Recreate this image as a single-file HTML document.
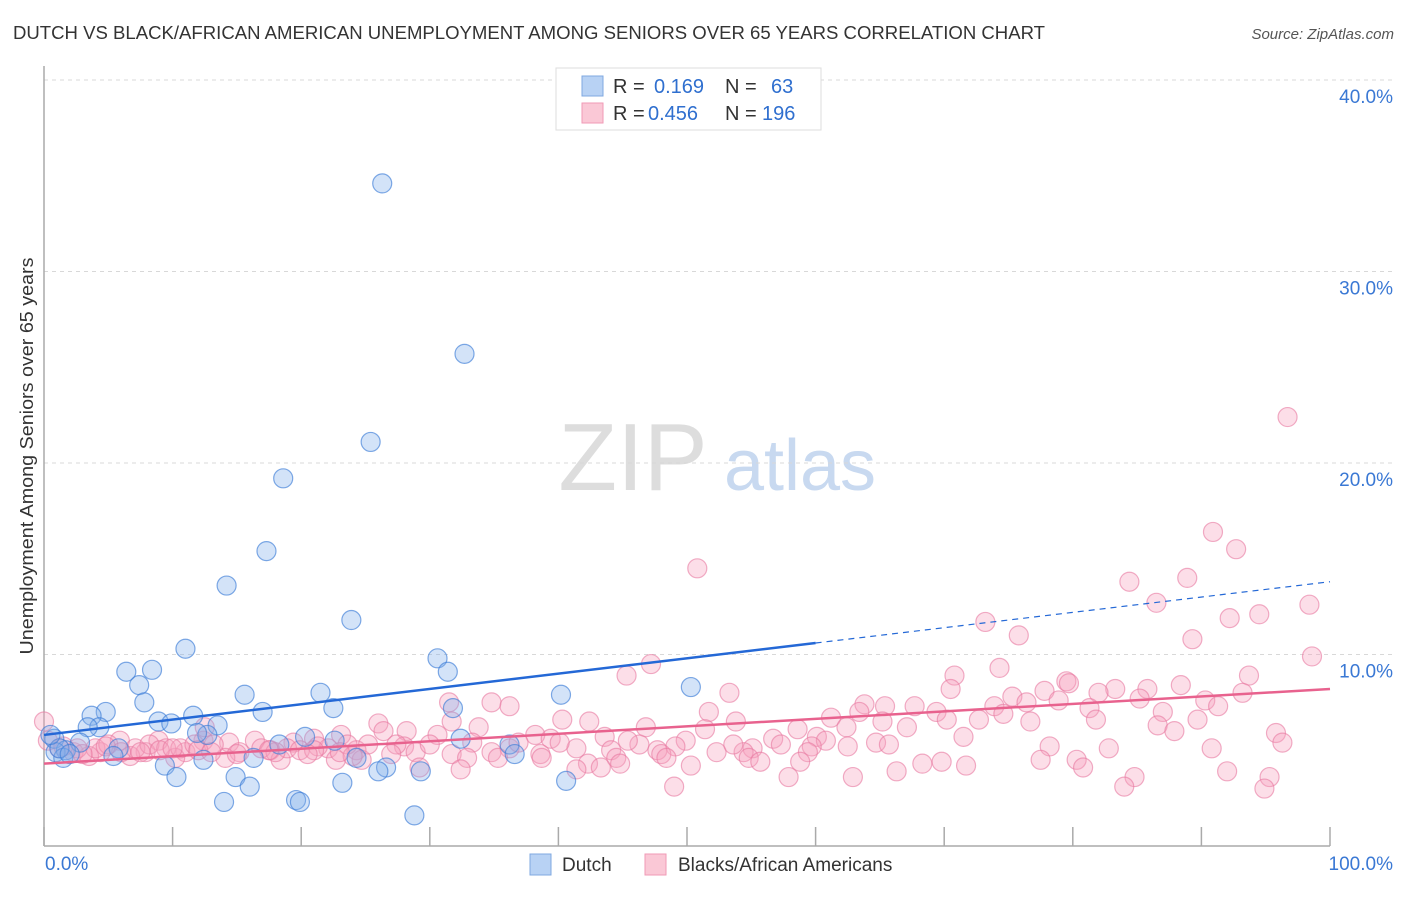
<!DOCTYPE html>
<html><head><meta charset="utf-8"><style>
body{margin:0;background:#fff;font-family:"Liberation Sans",sans-serif}
svg text{font-family:"Liberation Sans",sans-serif}
</style></head><body>
<svg id="chart" width="1406" height="892" viewBox="0 0 1406 892" xmlns="http://www.w3.org/2000/svg">
<text x="13" y="39" font-size="18" fill="#333" textLength="1032" lengthAdjust="spacingAndGlyphs">DUTCH VS BLACK/AFRICAN AMERICAN UNEMPLOYMENT AMONG SENIORS OVER 65 YEARS CORRELATION CHART</text>
<text x="1394" y="39" font-size="15" fill="#555" font-style="italic" text-anchor="end">Source: ZipAtlas.com</text>
<g>
<text x="633" y="490" font-size="96" fill="#ddd" font-family="Liberation Serif,serif" text-anchor="middle">ZIP</text>
<text x="800" y="490" font-size="72" fill="#c8d9f0" text-anchor="middle">atlas</text>
</g>
<g id="grid"></g>
<g id="axes"></g>
<g id="marks"></g>
<g id="trends"></g>
<text transform="translate(33,456) rotate(-90)" font-size="18" fill="#333" text-anchor="middle" textLength="397" lengthAdjust="spacingAndGlyphs">Unemployment Among Seniors over 65 years</text>
<g>
<rect x="556" y="68" width="265" height="62" fill="#fff" stroke="#ddd"/>
<rect x="582" y="76" width="21" height="20" fill="#b8d2f4" stroke="#7fa8e0"/>
<rect x="582" y="103" width="21" height="20" fill="#fac8d6" stroke="#f09ab6"/>
<text x="613" y="93" font-size="20" fill="#333">R = </text><text x="654" y="93" font-size="20" fill="#2f6fcf">0.169</text>
<text x="725" y="93" font-size="20" fill="#333">N = </text><text x="771" y="93" font-size="20" fill="#2f6fcf">63</text>
<text x="613" y="120" font-size="20" fill="#333">R = </text><text x="648" y="120" font-size="20" fill="#2f6fcf">0.456</text>
<text x="725" y="120" font-size="20" fill="#333">N = </text><text x="762" y="120" font-size="20" fill="#2f6fcf">196</text>
</g>
<g>
<rect x="530" y="854" width="21" height="21" fill="#b8d2f4" stroke="#7fa8e0"/>
<text x="562" y="871" font-size="19" fill="#333">Dutch</text>
<rect x="645" y="854" width="21" height="21" fill="#fac8d6" stroke="#f09ab6"/>
<text x="678" y="871" font-size="19" fill="#333">Blacks/African Americans</text>
</g>
</svg>
<script>
const yTicks=[10,20,30,40];
const yTickLabels=["10.0%","20.0%","30.0%","40.0%"];
const xTickVals=[0,10,20,30,40,50,60,70,80,90,100];
const dutchX=[26.3,32.7,25.4,18.6,17.3,14.2,23.9,11.0,30.6,6.4,8.4,31.4,7.4,50.3,21.5,15.6,40.2,7.8,4.8,3.7,22.5,17.0,11.6,31.8,8.9,9.9,4.3,13.5,3.4,12.7,20.3,11.9,32.4,18.3,22.6,2.8,0.8,36.2,5.8,1.7,0.9,1.5,5.4,12.4,16.3,24.3,36.6,9.4,26.6,26.0,29.3,10.3,14.9,23.2,40.6,16.0,14.0,19.6,19.9,28.8,1.2,0.5,2.0];
const dutchY=[34.6,25.7,21.1,19.2,15.4,13.6,11.8,10.3,9.8,9.1,9.2,9.1,8.4,8.3,8.0,7.9,7.9,7.5,7.0,6.8,7.2,7.0,6.8,7.2,6.5,6.4,6.2,6.3,6.2,5.8,5.7,5.9,5.6,5.3,5.5,5.4,5.6,5.3,5.1,5.0,4.9,4.6,4.7,4.5,4.6,4.6,4.8,4.2,4.1,3.9,3.9,3.6,3.6,3.3,3.4,3.1,2.3,2.4,2.3,1.6,5.1,5.8,4.8];
const blackX=[96.7,90.9,92.7,50.8,88.9,84.4,86.5,98.4,94.5,92.2,73.2,75.8,89.3,98.6,47.2,74.3,70.8,45.3,93.7,79.5,79.7,83.3,77.8,85.8,88.4,70.5,53.3,82.0,93.2,75.3,85.2,78.9,90.3,31.5,34.8,36.2,63.8,65.4,67.7,69.4,76.4,73.9,81.3,91.3,87.0,51.7,74.6,61.2,63.4,81.8,72.7,70.2,89.7,76.7,31.7,40.3,42.4,53.8,26.0,65.2,86.6,87.9,62.4,67.1,58.6,51.4,46.8,33.8,38.2,26.4,28.2,30.6,23.1,95.8,71.5,43.6,56.7,60.1,60.8,49.9,21.0,16.4,12.4,8.9,5.9,96.3,39.4,57.3,64.7,65.7,46.3,36.2,41.4,49.1,28.0,33.3,36.9,19.4,14.4,59.7,62.5,55.1,44.1,78.2,82.8,90.8,52.3,54.4,59.4,47.7,38.6,34.8,31.7,28.9,24.3,22.1,17.6,15.2,11.0,7.9,4.4,2.3,44.5,48.0,54.8,38.7,35.3,32.9,24.7,22.7,18.4,14.1,10.2,6.7,3.5,80.3,69.8,68.3,77.5,42.3,44.8,55.7,58.8,48.4,41.4,43.3,32.4,29.2,71.7,80.8,66.3,50.3,92.0,84.8,62.9,57.9,95.3,84.0,49.0,94.9,0.0,0.3,1.2,2.6,4.0,5.0,7.1,8.2,9.5,10.6,11.7,12.5,13.2,16.9,18.9,19.9,21.3,23.6,25.2,27.4,30.0,40.1,45.4,53.6,3.0,6.0,9.0,12.0,15.0,18.0,21.0,24.0,27.0,1.5,4.8,7.5,10.0,13.0,17.5,20.5,23.0];
const blackY=[22.4,16.4,15.5,14.5,14.0,13.8,12.7,12.6,12.1,11.9,11.7,11.0,10.8,9.9,9.5,9.3,8.9,8.9,8.9,8.6,8.5,8.2,8.1,8.2,8.4,8.2,8.0,8.0,8.0,7.8,7.7,7.6,7.6,7.5,7.5,7.3,7.4,7.3,7.3,7.0,7.5,7.3,7.2,7.3,7.0,7.0,6.9,6.7,7.0,6.6,6.6,6.6,6.6,6.5,6.5,6.6,6.5,6.5,6.4,6.5,6.3,6.0,6.2,6.2,6.1,6.1,6.2,6.2,5.8,6.0,6.0,5.8,5.8,5.9,5.7,5.7,5.6,5.7,5.5,5.5,5.6,5.5,5.5,5.5,5.5,5.4,5.6,5.3,5.4,5.3,5.3,5.1,5.1,5.2,5.2,5.4,5.4,5.4,5.4,5.2,5.2,5.1,5.0,5.2,5.1,5.1,4.9,4.9,4.9,5.0,4.8,4.9,4.8,4.9,5.0,5.1,5.0,4.9,4.9,4.9,4.9,4.9,4.6,4.8,4.6,4.6,4.6,4.6,4.5,4.5,4.5,4.6,4.6,4.7,4.7,4.5,4.4,4.3,4.5,4.3,4.3,4.4,4.4,4.6,4.0,4.1,4.0,4.1,4.2,4.1,3.9,4.2,3.9,3.6,3.6,3.6,3.6,3.1,3.1,3.0,6.5,5.5,5.1,5.1,5.1,5.3,5.1,5.3,5.1,5.1,5.3,6.2,5.3,5.1,5.1,5.0,5.2,5.3,5.3,5.3,5.3,5.4,5.5,5.3,4.8,4.9,5.0,5.0,4.8,4.9,5.0,4.7,4.8,5.2,5.2,4.9,5.1,4.9,5.0,4.8,4.9];
const dutchTrend=[5.8,13.8];
const blackTrend=[4.3,8.2];
const dutchSolidEnd=60;
const NS='http://www.w3.org/2000/svg';
const L=44,R=1330,B=846,T=80;
const xs=v=>L+(R-L)*v/100;
const ys=v=>B-(B-T)*v/40;
function mk(t,a,p){const e=document.createElementNS(NS,t);for(const k in a)e.setAttribute(k,a[k]);p.appendChild(e);return e;}
const grid=document.getElementById('grid'),axes=document.getElementById('axes'),marks=document.getElementById('marks'),trends=document.getElementById('trends');
yTicks.forEach((v,i)=>{
 const g=mk('line',{x1:L,x2:1392,y1:ys(v),y2:ys(v),stroke:'#d8d8d8','stroke-dasharray':'4,4'},grid);
 
 
 const t=mk('text',{x:1393,y:ys(v)+23,'font-size':19,fill:'#3a78d4','text-anchor':'end'},axes);
 t.textContent=yTickLabels[i];
 
 
});
const ya=mk('line',{x1:L,x2:L,y1:66,y2:B,stroke:'#aaa','stroke-width':1.5},axes);


const xa=mk('line',{x1:L,x2:R,y1:B,y2:B,stroke:'#aaa','stroke-width':1.5},axes);


xTickVals.forEach(v=>{const k=mk('line',{x1:xs(v),x2:xs(v),y1:B,y2:B-19,stroke:'#aaa','stroke-width':1.5},axes);
 
 });
const x0=mk('text',{x:45,y:870,'font-size':19,fill:'#3a78d4'},axes);x0.textContent='0.0%';


const x1=mk('text',{x:1393,y:870,'font-size':19,fill:'#3a78d4','text-anchor':'end'},axes);x1.textContent='100.0%';


blackX.forEach((v,i)=>{const c=mk('circle',{cx:xs(v),cy:ys(blackY[i]),r:9.5,fill:'rgba(246,160,188,0.35)',stroke:'rgba(232,120,160,0.6)','stroke-width':1.2},marks);
 
 });
dutchX.forEach((v,i)=>{const c=mk('circle',{cx:xs(v),cy:ys(dutchY[i]),r:9.5,fill:'rgba(130,175,235,0.35)',stroke:'rgba(60,125,215,0.65)','stroke-width':1.2},marks);
 
 });
const dAt=x=>dutchTrend[0]+(dutchTrend[1]-dutchTrend[0])*x/100;
const t1=mk('line',{x1:xs(0),y1:ys(dAt(0)),x2:xs(dutchSolidEnd),y2:ys(dAt(dutchSolidEnd)),stroke:'#2468d6','stroke-width':2.5},trends);


const t2=mk('line',{x1:xs(dutchSolidEnd),y1:ys(dAt(dutchSolidEnd)),x2:xs(100),y2:ys(dAt(100)),stroke:'#2468d6','stroke-width':1.2,'stroke-dasharray':'6,5'},trends);


const t3=mk('line',{x1:xs(0),y1:ys(blackTrend[0]),x2:xs(100),y2:ys(blackTrend[1]),stroke:'#e8628e','stroke-width':2.5},trends);


</script>
</body></html>
